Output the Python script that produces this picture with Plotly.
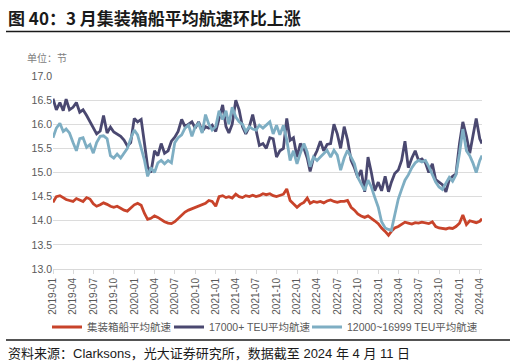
import plotly.graph_objects as go
import pandas as pd

# semi-monthly observation dates (1st and 16th), last point 2024-04-11
dates = []
for y in range(2019, 2025):
    for m in range(1, 13):
        for d in (1, 16):
            if (y, m, d) <= (2024, 4, 1):
                dates.append(f"{y}-{m:02d}-{d:02d}")
dates.append("2024-04-11")

all_ships = [
    14.38, 14.50, 14.52, 14.48, 14.44, 14.42, 14.40, 14.46, 14.43, 14.40,
    14.48, 14.45, 14.35, 14.30, 14.33, 14.37, 14.34, 14.30, 14.28, 14.30,
    14.26, 14.22, 14.20, 14.26, 14.33, 14.36, 14.32, 14.15, 14.03, 14.05,
    14.10, 14.07, 14.02, 13.98, 13.95, 13.94, 13.98, 14.04, 14.12, 14.18,
    14.22, 14.25, 14.27, 14.30, 14.33, 14.36, 14.42, 14.40, 14.30, 14.50,
    14.52, 14.48, 14.50, 14.47, 14.55, 14.50, 14.48, 14.52, 14.50, 14.53,
    14.50, 14.52, 14.56, 14.54, 14.56, 14.52, 14.50, 14.52, 14.55, 14.66,
    14.42, 14.35, 14.28, 14.34, 14.38, 14.47, 14.36, 14.40, 14.38, 14.40,
    14.37, 14.41, 14.43, 14.40, 14.38, 14.40, 14.40, 14.42, 14.28, 14.22,
    14.14, 14.10, 14.07, 14.10, 14.04, 14.00, 13.94, 13.85, 13.78, 13.70,
    13.78, 13.85, 13.88, 13.92, 13.97, 13.95, 13.93, 13.96, 13.95, 13.97,
    13.96, 13.94, 13.98, 13.88, 13.85, 13.84, 13.83, 13.85, 13.84, 13.88,
    13.95, 14.12, 13.92, 14.00, 13.98, 13.96, 13.99, 14.04,
]

teu_17000 = [
    16.53, 16.30, 16.45, 16.28, 16.52, 16.30, 16.35, 16.45, 16.25, 16.30,
    16.18, 16.05, 15.95, 15.80, 15.86, 16.18, 15.82, 15.94, 15.84, 15.80,
    15.75, 15.67, 15.55, 15.62, 16.12, 16.05, 16.10, 15.60, 15.12, 15.00,
    15.45, 15.35, 15.60, 15.40, 15.45, 15.65, 15.73, 15.85, 16.10, 15.95,
    16.00, 16.05, 15.92, 16.05, 15.85, 15.95, 15.92, 15.98, 15.85, 16.12,
    16.40, 15.95, 15.82, 16.00, 16.50, 16.30, 15.95, 15.80, 15.95, 16.20,
    15.85, 15.56, 15.60, 15.50, 15.72, 15.70, 15.32, 15.45, 15.50, 16.12,
    15.67, 15.72, 15.32, 15.60, 15.50, 15.30, 15.02, 15.30, 15.45, 15.65,
    15.45, 15.58, 15.60, 16.00, 15.80, 15.50, 15.95, 15.68, 15.25, 15.10,
    14.90, 15.05, 14.60, 15.32, 15.00, 14.62, 14.80, 14.62, 14.92, 14.60,
    14.80, 14.98, 15.05, 15.25, 15.65, 15.10, 15.30, 15.45, 15.25, 15.28,
    15.20, 15.00, 15.18, 14.85, 14.80, 14.75, 14.60, 14.85, 14.92, 14.97,
    15.60, 16.05, 15.75, 15.40, 15.75, 16.12, 15.70, 15.60,
]

teu_12000_16999 = [
    15.72, 15.92, 16.02, 15.85, 15.90, 15.82, 15.62, 15.45, 15.70, 15.72,
    15.52, 15.58, 15.40, 15.62, 15.75, 15.76, 15.70, 15.35, 15.30, 15.38,
    15.30, 15.40, 15.50, 15.70, 15.88, 15.78, 15.50, 15.25, 14.92, 15.10,
    15.00, 15.20, 15.25, 15.18, 15.25, 15.20, 15.62, 15.72, 15.78, 15.92,
    15.98, 15.75, 15.95, 16.02, 15.82, 16.20, 16.00, 15.88, 15.95, 16.28,
    16.10, 16.28, 16.00, 16.35, 16.15, 16.05, 16.00, 15.85, 15.95, 15.90,
    15.88, 15.98, 15.92, 15.98, 16.05, 15.80, 15.98, 15.78, 15.98, 15.68,
    15.25, 15.45, 15.18, 15.40, 15.60, 15.42, 15.12, 15.32, 15.25, 15.32,
    15.38, 15.46, 15.32, 15.46, 15.36, 15.05, 15.30, 15.46, 15.32, 15.18,
    14.90, 14.77, 14.63, 14.84, 14.70, 14.49, 14.28, 13.98, 13.85, 13.82,
    13.80, 14.12, 14.45, 14.65, 14.84, 14.95, 15.10, 15.20, 15.25, 15.22,
    15.25, 15.12, 14.95, 14.80, 14.70, 14.65, 14.78, 14.90, 14.82, 14.95,
    15.40, 15.90, 15.45, 15.35, 15.20, 15.00, 15.25, 15.35,
]

series_names = ["集装箱船平均航速", "17000+ TEU平均航速", "12000~16999 TEU平均航速"]
series_colors = ["#C8432A", "#4A4870", "#7EAEC3"]

tick_vals = [f"{y}-{m:02d}-01" for y in range(2019, 2025) for m in (1, 4, 7, 10)
             if (y, m) <= (2024, 4)]
tick_text = [v[:7] for v in tick_vals]

FONT = "Liberation Sans, Arial, Noto Sans CJK SC, sans-serif"

W, H = 516, 364
L, R, T, B = 53, 34, 76, 95
pw, ph = W - L - R, H - T - B

def px(x):
    return (x - L) / pw

def py(y):
    return (H - B - y) / ph

legend_ids = ["legend", "legend2", "legend3"]
legend_x = [47, 169, 307]

fig = go.Figure()
for name, vals, col, lid in zip(series_names, [all_ships, teu_17000, teu_12000_16999],
                                series_colors, legend_ids):
    fig.add_trace(go.Scatter(x=pd.to_datetime(dates), y=vals, mode="lines", name=name,
                             legend=lid, line=dict(color=col, width=2.8)))

legend_common = dict(orientation="h", xanchor="left", yanchor="middle",
                     font=dict(size=10.5, color="#595959"), itemwidth=30,
                     bgcolor="rgba(0,0,0,0)")
legend_layout = {lid: dict(x=px(lx), y=py(327), **legend_common)
                 for lid, lx in zip(legend_ids, legend_x)}

fig.update_layout(
    width=W, height=H,
    margin=dict(l=L, r=R, t=T, b=B),
    plot_bgcolor="white", paper_bgcolor="white",
    font=dict(family=FONT, size=10, color="#595959"),
    showlegend=True,
    **legend_layout,
    xaxis=dict(type="date", range=["2019-01-01", "2024-04-11"],
               tickmode="array", tickvals=tick_vals, ticktext=tick_text,
               tickangle=-90, tickfont=dict(size=10, color="#595959"),
               showgrid=False, showline=True, linecolor="#D9D9D9", linewidth=1,
               ticks="outside", ticklen=4, tickcolor="#D9D9D9", zeroline=False),
    yaxis=dict(range=[13, 17], dtick=0.5, tickformat=".1f",
               showgrid=True, gridcolor="#DCDCDC", gridwidth=1,
               tickfont=dict(size=10.5, color="#595959"), zeroline=False,
               showline=False, ticks=""),
    annotations=[
        dict(text="<b>图 40：3 月集装箱船平均航速环比上涨</b>", xref="paper", yref="paper",
             x=px(6), y=py(17), xanchor="left", yanchor="middle", showarrow=False,
             font=dict(size=17, color="#1a1a1a", family="Noto Sans CJK SC, sans-serif")),
        dict(text="单位：节", xref="paper", yref="paper", x=px(25), y=py(57),
             xanchor="left", yanchor="middle", showarrow=False,
             font=dict(size=10, color="#808080", family="Noto Sans CJK SC, sans-serif")),
        dict(text="资料来源：Clarksons，光大证券研究所，数据截至 2024 年 4 月 11 日",
             xref="paper", yref="paper", x=px(6), y=py(353), xanchor="left",
             yanchor="middle", showarrow=False,
             font=dict(size=13, color="#1a1a1a", family=FONT)),
    ],
    shapes=[
        dict(type="line", xref="paper", yref="paper", x0=px(6), x1=px(510),
             y0=py(31.5), y1=py(31.5), line=dict(color="#1a1a1a", width=1.5)),
        dict(type="line", xref="paper", yref="paper", x0=px(6), x1=px(510),
             y0=py(340), y1=py(340), line=dict(color="#1a1a1a", width=1.5)),
    ],
)

fig.write_html("out.html", config={"displayModeBar": False},
               post_script="document.body.style.margin='0';document.body.style.overflow='hidden';")
